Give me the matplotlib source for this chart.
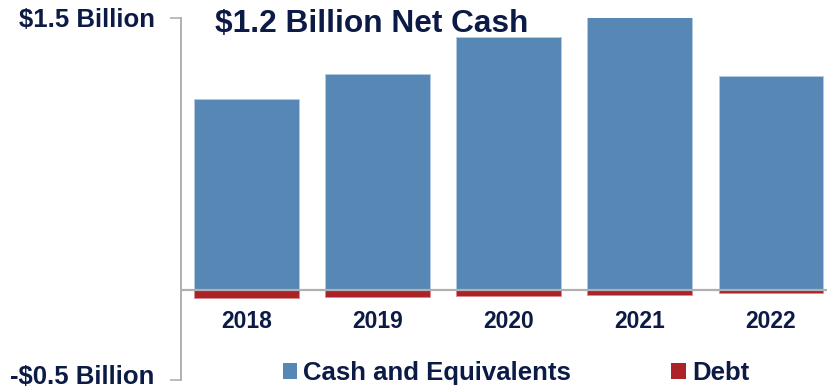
import matplotlib.pyplot as plt
from matplotlib.patches import Patch
from matplotlib.transforms import ScaledTranslation

years = ["2018", "2019", "2020", "2021", "2022"]
cash = [1.05, 1.19, 1.395, 1.515, 1.18]   # $ billion
debt = [0.045, 0.043, 0.038, 0.033, 0.018]  # $ billion (shown below zero)
ytick_vals = [-0.5, 1.5]
ytick_labels = ["-$0.5 Billion", "$1.5 Billion"]

NAVY = "#0c1a46"
BLUE = "#5687b5"
RED = "#ab2328"
GRAY = "#b0b0b0"

plt.rcParams["font.family"] = ["Liberation Sans", "DejaVu Sans"]
plt.rcParams["font.weight"] = "bold"

fig = plt.figure(figsize=(8.27, 3.91), dpi=100)
ax = fig.add_axes([0.2189, 0.0281, 0.7926, 0.9259])

x = range(len(years))
ax.bar(x, cash, width=0.8, color=BLUE, edgecolor="#b4cbe2", linewidth=0.6, zorder=2)
ax.bar(x, [-d for d in debt], width=0.8, color=RED, edgecolor="#d98a8d", linewidth=0.5, zorder=2)
ax.axhline(0, color=GRAY, linewidth=1.6, zorder=3)

ax.set_xlim(-0.5, 4.5)
ax.set_ylim(-0.5, 1.5)
ax.set_xticks([])
ax.set_yticks(ytick_vals)
ax.set_yticklabels(ytick_labels, fontsize=18.5, fontweight="bold", color=NAVY)
ax.tick_params(axis="y", direction="out", length=8, width=1.2, color=GRAY, pad=11)

# nudge the bottom label up a touch so it isn't clipped by the figure edge
low = ax.get_yticklabels()[0]
low.set_transform(low.get_transform() + ScaledTranslation(0, 4 / 72, fig.dpi_scale_trans))

for s in ["top", "right", "bottom"]:
    ax.spines[s].set_visible(False)
ax.spines["left"].set_color(GRAY)
ax.spines["left"].set_linewidth(1.4)

for i, yr in enumerate(years):
    ax.text(i, -0.174, yr, ha="center", va="center", fontsize=16.5,
            fontweight="bold", color=NAVY)

fig.text(215 / 827, 1 - 24 / 391, "$1.2 Billion Net Cash", ha="left", va="center",
         fontsize=22.8, fontweight="bold", color=NAVY)

handles = [Patch(facecolor=BLUE, edgecolor="none", label="Cash and Equivalents"),
           Patch(facecolor=RED, edgecolor="none", label="Debt")]
leg = fig.legend(handles=handles, loc="center", bbox_to_anchor=(516 / 827, 1 - 373 / 391),
                 ncol=2, frameon=False, fontsize=18.5, handlelength=0.55, handleheight=0.55,
                 handletextpad=0.25, columnspacing=3.9, borderpad=0)
for t in leg.get_texts():
    t.set_color(NAVY)
    t.set_fontweight("bold")

fig.savefig("out.png", dpi=100)
